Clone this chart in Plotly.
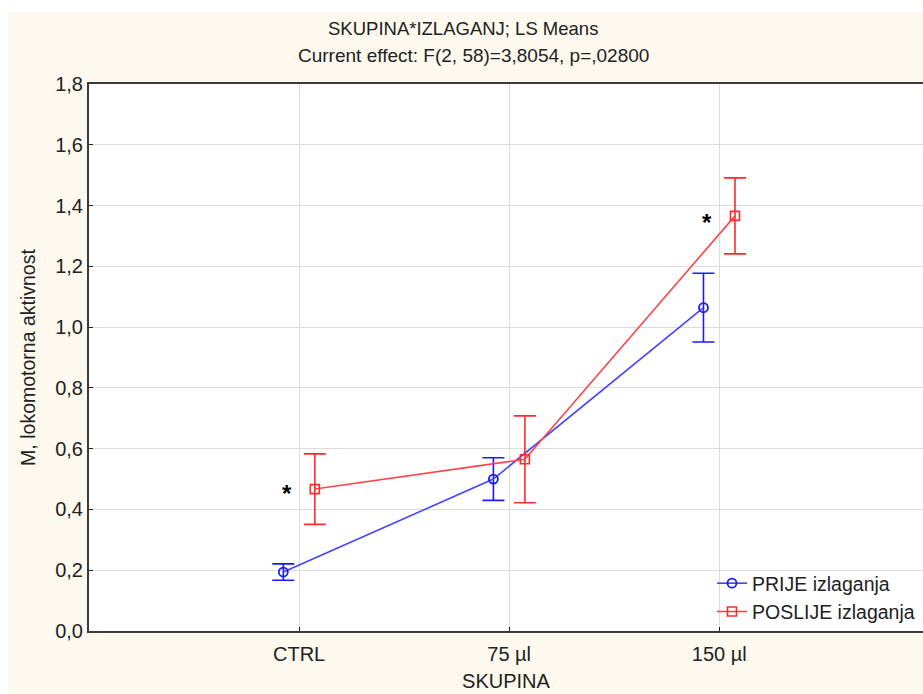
import plotly.graph_objects as go

# LS means of locomotor activity by group and exposure phase
groups = ["CTRL", "75 µl", "150 µl"]
prije_mean = [0.194, 0.500, 1.064]
prije_err = [0.027, 0.070, 0.113]
poslije_mean = [0.467, 0.565, 1.366]
poslije_err = [0.116, 0.143, 0.125]
significant = [True, False, True]  # marked with an asterisk (POSLIJE series)

y_ticks = [0.0, 0.2, 0.4, 0.6, 0.8, 1.0, 1.2, 1.4, 1.6, 1.8]
y_ticklabels = [f"{v:.1f}".replace(".", ",") for v in y_ticks]

W, H = 923, 694
L, R, T, B = 89, 0, 84, 63
FONT = "Liberation Sans, Arial, sans-serif"
CREAM = "#fdf9ee"
TXT = "#222222"

pos = list(range(1, len(groups) + 1))
off = 0.075

fig = go.Figure()
fig.add_trace(go.Scatter(
    x=[p - off for p in pos], y=prije_mean, name="PRIJE izlaganja",
    mode="lines+markers",
    line=dict(color="#4444ff", width=1.6),
    marker=dict(symbol="circle-open", size=9, color="#1a1aff", line=dict(width=1.8)),
    error_y=dict(type="data", array=prije_err, color="#1a1aff", thickness=1.6, width=11),
))
fig.add_trace(go.Scatter(
    x=[p + off for p in pos], y=poslije_mean, name="POSLIJE izlaganja",
    mode="lines+markers",
    line=dict(color="#ff4444", width=1.6),
    marker=dict(symbol="square-open", size=9, color="#ff2a2a", line=dict(width=1.6)),
    error_y=dict(type="data", array=poslije_err, color="#ff2a2a", thickness=1.6, width=11),
))

annotations = []
for p, m, s in zip(pos, poslije_mean, significant):
    if s:
        annotations.append(dict(
            x=p + off, y=m, xref="x", yref="y", text="<b>*</b>", showarrow=False,
            xshift=-28, yshift=-4 if m < 1 else -7,
            font=dict(family=FONT, size=24, color="black"),
        ))

plot_w = W - L - R
plot_h = H - T - B


def px_x(px):
    return (px - L) / plot_w


def px_y(py):
    return (H - B - py) / plot_h


annotations += [
    dict(x=px_x(463), y=px_y(28), xref="paper", yref="paper", showarrow=False,
         text="SKUPINA*IZLAGANJ; LS Means", xanchor="center", yanchor="middle",
         font=dict(family=FONT, size=18.5, color=TXT)),
    dict(x=px_x(473), y=px_y(55), xref="paper", yref="paper", showarrow=False,
         text="Current effect: F(2, 58)=3,8054, p=,02800", xanchor="center", yanchor="middle",
         font=dict(family=FONT, size=19, color=TXT)),
]

# white margin strip along the top and left of the cream background
shapes = [
    dict(type="rect", xref="paper", yref="paper", x0=px_x(-5), x1=px_x(W + 5),
         y0=px_y(12), y1=px_y(-5), fillcolor="white", line=dict(width=0), layer="above"),
    dict(type="rect", xref="paper", yref="paper", x0=px_x(-5), x1=px_x(8),
         y0=px_y(H + 5), y1=px_y(-5), fillcolor="white", line=dict(width=0), layer="above"),
]

fig.update_layout(
    width=W, height=H,
    margin=dict(l=L, r=R, t=T, b=B),
    paper_bgcolor=CREAM, plot_bgcolor="white",
    font=dict(family=FONT, size=19, color=TXT),
    showlegend=True,
    legend=dict(x=px_x(712), y=px_y(564), xanchor="left", yanchor="top",
                bgcolor="rgba(0,0,0,0)", font=dict(family=FONT, size=19.5, color=TXT),
                tracegroupgap=0, itemwidth=30),
    annotations=annotations, shapes=shapes,
)
fig.update_xaxes(
    range=[0, 3.97], tickvals=pos, ticktext=groups,
    tickfont=dict(family=FONT, size=20, color=TXT),
    showline=True, linecolor="#3a3a3a", linewidth=2, mirror=True,
    showgrid=True, gridcolor="#dcdcdc", gridwidth=1,
    ticks="inside", ticklen=4, tickcolor=TXT, tickwidth=1,
    ticklabelstandoff=4,
    zeroline=False,
    title=dict(text="SKUPINA", standoff=10, font=dict(family=FONT, size=20)),
)
fig.update_yaxes(
    range=[0, 1.8], tickvals=y_ticks, ticktext=y_ticklabels,
    tickfont=dict(family=FONT, size=20, color=TXT),
    showline=True, linecolor="#3a3a3a", linewidth=2, mirror=False,
    showgrid=True, gridcolor="#dcdcdc", gridwidth=1,
    ticks="inside", ticklen=4, tickcolor=TXT, tickwidth=1,
    zeroline=False,
    title=dict(text="M, lokomotorna aktivnost", standoff=14, font=dict(family=FONT, size=19.5)),
)

fig.write_html("out.html")
